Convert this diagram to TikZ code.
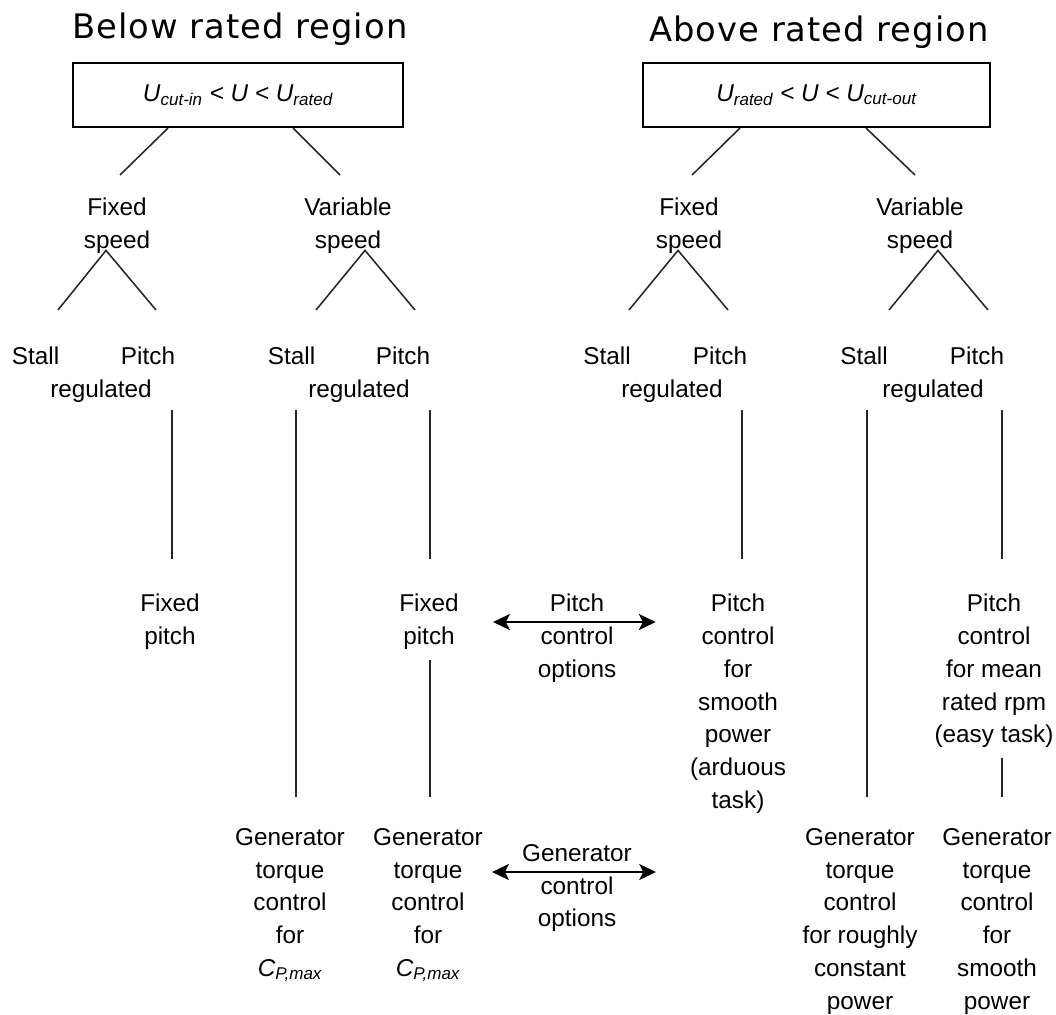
\documentclass[tikz,border=0pt]{standalone}
\usepackage{fontspec}
\setmainfont{Liberation Sans}
\newfontfamily\titlefont[LetterSpace=3]{DejaVu Sans}
\usetikzlibrary{arrows.meta,calc}

\begin{document}
\begin{tikzpicture}[x=0.025cm,y=-0.025cm,
  regiontitle/.style={anchor=base,inner sep=0pt,font=\titlefont\fontsize{24}{28}\selectfont},
  regionbox/.style={rectangle,draw,line width=1.5pt,minimum height=1.6cm,inner sep=0pt,
    font=\itshape\fontsize{17.3}{20}\selectfont},
  choice/.style={anchor=north,align=center,inner sep=0pt,font=\fontsize{17.3}{23.3}\selectfont},
  branchline/.style={line width=1.1pt,black!85},
  optionarrow/.style={<->,line width=1.3pt,>={Stealth[length=0.42cm,width=0.4cm,inset=0.1cm]}}]
\useasboundingbox (0,0) rectangle (1056,1014);

% the two regions
\node[regiontitle] (below) at (240,38) {Below rated region};
\node[regiontitle] (above) at (819,41) {Above rated region};
\node[regionbox,minimum width=8.25cm] (lbox) at (238,95)
  {U\textsubscript{cut-in} < U < U\textsubscript{rated}};
\node[regionbox,minimum width=8.675cm] (rbox) at (816.5,95)
  {U\textsubscript{rated} < U < U\textsubscript{cut-out}};

% speed
\node[choice] (lfs) at (117,198) {Fixed\\speed};
\node[choice] (lvs) at (348,198) {Variable\\speed};
\node[choice] (rfs) at (689,198) {Fixed\\speed};
\node[choice] (rvs) at (920,198) {Variable\\speed};

% stall / pitch regulated
\node[choice] (lfst) at (35.5,347) {Stall};
\node[choice] (lfpi) at (148,347) {Pitch};
\node[choice] (lfreg) at (101,380) {regulated};
\node[choice] (lvst) at (291.5,347) {Stall};
\node[choice] (lvpi) at (403,347) {Pitch};
\node[choice] (lvreg) at (359,380) {regulated};
\node[choice] (rfst) at (607,347) {Stall};
\node[choice] (rfpi) at (720,347) {Pitch};
\node[choice] (rfreg) at (672,380) {regulated};
\node[choice] (rvst) at (864,347) {Stall};
\node[choice] (rvpi) at (977,347) {Pitch};
\node[choice] (rvreg) at (933,380) {regulated};

% pitch options
\node[choice] (lfp) at (170,594) {Fixed\\pitch};
\node[choice] (lvfp) at (429,594) {Fixed\\pitch};
\node[choice] (pco) at (577,594) {Pitch\\control\\options};
\node[choice] (rpcs) at (738,594) {Pitch\\control\\for\\smooth\\power\\(arduous\\task)};
\node[choice] (rpcm) at (994,594) {Pitch\\control\\for mean\\rated rpm\\(easy task)};

% generator options
\node[choice] (lgen1) at (290,828) {Generator\\torque\\control\\for\\\textit{C\textsubscript{P,max}}};
\node[choice] (lgen2) at (428,828) {Generator\\torque\\control\\for\\\textit{C\textsubscript{P,max}}};
\node[choice] (gco) at (577,844) {Generator\\control\\options};
\node[choice] (rgen1) at (860,828) {Generator\\torque\\control\\for roughly\\constant\\power};
\node[choice] (rgen2) at (997,828) {Generator\\torque\\control\\for\\smooth\\power};

% tree
\draw[branchline] ([xshift=-1.75cm]lbox.south) -- ([xshift=0.075cm,yshift=0.575cm]lfs.north);
\draw[branchline] ([xshift=1.375cm]lbox.south) -- ([xshift=-0.2cm,yshift=0.575cm]lvs.north);
\draw[branchline] ([xshift=-1.9125cm]rbox.south) -- ([xshift=0.075cm,yshift=0.575cm]rfs.north);
\draw[branchline] ([xshift=1.2375cm]rbox.south) -- ([xshift=-0.125cm,yshift=0.575cm]rvs.north);

\draw[branchline] ([xshift=0.5625cm,yshift=0.925cm]lfst.north) -- ([xshift=-0.275cm,yshift=0.09cm]lfs.south)
  -- ([xshift=0.2cm,yshift=0.925cm]lfpi.north);
\draw[branchline] ([xshift=0.6125cm,yshift=0.925cm]lvst.north) -- ([xshift=0.425cm,yshift=0.09cm]lvs.south)
  -- ([xshift=0.3cm,yshift=0.925cm]lvpi.north);
\draw[branchline] ([xshift=0.55cm,yshift=0.925cm]rfst.north) -- ([xshift=-0.275cm,yshift=0.09cm]rfs.south)
  -- ([xshift=0.2cm,yshift=0.925cm]rfpi.north);
\draw[branchline] ([xshift=0.625cm,yshift=0.925cm]rvst.north) -- ([xshift=0.45cm,yshift=0.09cm]rvs.south)
  -- ([xshift=0.275cm,yshift=0.925cm]rvpi.north);

\draw[branchline,shorten <=0.175cm,shorten >=0.875cm] ($(lfp.north |- lfreg.south)+(2,0)$) -- ($(lfp.north)+(2,0)$);
\draw[branchline,shorten <=0.175cm,shorten >=0.775cm] ($(lgen1.north |- lvreg.south)+(6,0)$) -- ($(lgen1.north)+(6,0)$);
\draw[branchline,shorten <=0.175cm,shorten >=0.875cm] ($(lvfp.north |- lvreg.south)+(1,0)$) -- ($(lvfp.north)+(1,0)$);
\draw[branchline,shorten <=0.25cm,shorten >=0.775cm] ($(lvfp.south)+(1,0)$) -- ($(lgen2.north)+(2,0)$);
\draw[branchline,shorten <=0.175cm,shorten >=0.875cm] ($(rpcs.north |- rfreg.south)+(4,0)$) -- ($(rpcs.north)+(4,0)$);
\draw[branchline,shorten <=0.175cm,shorten >=0.775cm] ($(rgen1.north |- rvreg.south)+(7,0)$) -- ($(rgen1.north)+(7,0)$);
\draw[branchline,shorten <=0.175cm,shorten >=0.875cm] ($(rpcm.north |- rvreg.south)+(8,0)$) -- ($(rpcm.north)+(8,0)$);
\draw[branchline,shorten <=0.25cm,shorten >=0.775cm] ($(rpcm.south)+(8,0)$) -- ($(rgen2.north)+(5,0)$);

% options
\coordinate (pitchlevel) at (577,622);
\draw[optionarrow,shorten <=0.85cm,shorten >=0.85cm] (lvfp.east |- pitchlevel) -- (rpcs.west |- pitchlevel);
\coordinate (genend) at (656,872);
\draw[optionarrow,shorten <=0.225cm] (lgen2.east |- genend) -- (genend);
\end{tikzpicture}
\end{document}
